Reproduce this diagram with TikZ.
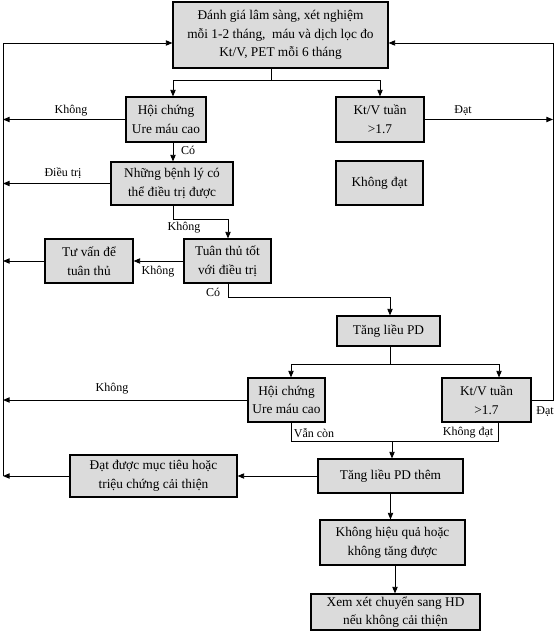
\documentclass[tikz,border=0pt]{standalone}
\usepackage{fontspec}
\setmainfont{Liberation Serif}
\usetikzlibrary{arrows.meta}
\begin{document}
\begin{tikzpicture}[x=0.75pt,y=-0.75pt,
  box/.style={draw=black,line width=0.8pt,fill=black!14,inner sep=0pt,align=center,
    font=\fontsize{10}{14}\selectfont},
  lbl/.style={inner sep=0pt,font=\fontsize{9}{11}\selectfont},
  conn/.style={line width=0.7pt},
  arr/.style={conn,-{Triangle[length=5pt,width=4pt]}}]
\useasboundingbox (0,0) rectangle (556,631);
% boxes
\node[box,minimum width=161.25pt,minimum height=49.5pt] (top) at (280.5,35)
  {Đánh giá lâm sàng, xét nghiệm\\ mỗi 1-2 tháng,\ \ máu và dịch lọc đo\\ Kt/V, PET mỗi 6 tháng};
\node[box,minimum width=60pt,minimum height=33.75pt] (hc1) at (166,119.5) {Hội chứng\\ Ure máu cao};
\node[box,minimum width=66pt,minimum height=33.75pt] (kt1) at (380,119.5) {Kt/V tuần\\ >1.7};
\node[box,minimum width=91.5pt,minimum height=32.25pt] (nb) at (172,183.5) {Những bệnh lý có\\ thể điều trị được};
\node[box,minimum width=65.25pt,minimum height=33pt] (kd) at (379.5,183) {Không đạt};
\node[box,minimum width=65.25pt,minimum height=33pt] (tt) at (227.5,261) {Tuân thủ tốt\\ với điều trị};
\node[box,minimum width=66pt,minimum height=33pt] (tv) at (89,261) {Tư vấn để\\ tuân thủ};
\node[box,minimum width=77.25pt,minimum height=22.5pt] (tl) at (388.5,331) {Tăng liều PD};
\node[box,minimum width=57.75pt,minimum height=33pt] (hc2) at (286.5,400) {Hội chứng\\ Ure máu cao};
\node[box,minimum width=66.75pt,minimum height=33pt] (kt2) at (486.5,400) {Kt/V tuần\\ >1.7};
\node[box,minimum width=108.75pt,minimum height=25.5pt] (tlt) at (390.5,476) {Tăng liều PD thêm};
\node[box,minimum width=125.25pt,minimum height=31.5pt] (dd) at (153.5,476) {Đạt được mục tiêu hoặc\\ triệu chứng cải thiện};
\node[box,minimum width=108.75pt,minimum height=33.75pt] (khq) at (392.5,542.5) {Không hiệu quả hoặc\\ không tăng được};
\node[box,minimum width=126.75pt,minimum height=27pt] (xx) at (395.5,612) {Xem xét chuyển sang HD\\ nếu không cải thiện};
% helper coordinates
\coordinate (L) at (3,0);
\coordinate (R) at (553,0);
\coordinate (yT) at (0,43);
\coordinate (b1) at (271,80);
\coordinate (b1l) at (173,80);
\coordinate (b1r) at (380,80);
\coordinate (c1) at (173,219);
\coordinate (c2) at (228,219);
\coordinate (c3) at (228,297);
\coordinate (c4) at (390,297);
\coordinate (b2) at (390,364);
\coordinate (b2l) at (291,364);
\coordinate (b2r) at (499,364);
\coordinate (m1) at (291,441);
\coordinate (m2) at (498,441);
\coordinate (m3) at (392,441);
\coordinate (x5) at (395,0);
% connectors
\draw[arr] (top.south -| b1) -- (b1) -- (b1l) -- (hc1.north -| b1l);
\draw[arr] (b1) -- (b1r) -- (kt1.north -| b1r);
\draw[arr] (hc1.west) -- (hc1.west -| L);
\draw[arr] (kt1.east) -- (kt1.east -| R);
\draw[arr] (hc1.south -| b1l) -- (nb.north -| b1l);
\draw[arr] (nb.west) -- (nb.west -| L);
\draw[arr] (nb.south -| c1) -- (c1) -- (c2) -- (tt.north -| c2);
\draw[arr] (tt.west) -- (tv.east);
\draw[arr] (tv.west) -- (tv.west -| L);
\draw[arr] (tt.south -| c3) -- (c3) -- (c4) -- (tl.north -| c4);
\draw[arr] (tl.south -| b2) -- (b2) -- (b2l) -- (hc2.north -| b2l);
\draw[arr] (b2) -- (b2r) -- (kt2.north -| b2r);
\draw[arr] (hc2.west) -- (hc2.west -| L);
\draw[arr] (kt2.east) -- (kt2.east -| R) -- (R |- yT) -- (top.east |- yT);
\draw[conn] (hc2.south -| m1) -- (m1) -- (m2) -- (kt2.south -| m2);
\draw[arr] (m3) -- (tlt.north -| m3);
\draw[arr] (tlt.west) -- (dd.east);
\draw[arr] (dd.west) -- (dd.west -| L);
\draw[arr] (L |- dd.west) -- (L |- yT) -- (top.west |- yT);
\draw[arr] (tlt.south) -- (tlt.south |- khq.north);
\draw[arr] (khq.south -| x5) -- (xx.north -| x5);
% labels
\node[lbl] (l1) at (71,111) {Không};
\node[lbl] (l2) at (463,111) {Đạt};
\node[lbl] (l3) at (188,150) {Có};
\node[lbl] (l4) at (63,173) {Điều trị};
\node[lbl] (l5) at (184,228) {Không};
\node[lbl] (l6) at (158,272) {Không};
\node[lbl] (l7) at (213,292) {Có};
\node[lbl] (l8) at (112,389) {Không};
\node[lbl] (l9) at (545,412) {Đạt};
\node[lbl] (l10) at (314,433) {Vẫn còn};
\node[lbl] (l11) at (468,433) {Không đạt};
\end{tikzpicture}
\end{document}
